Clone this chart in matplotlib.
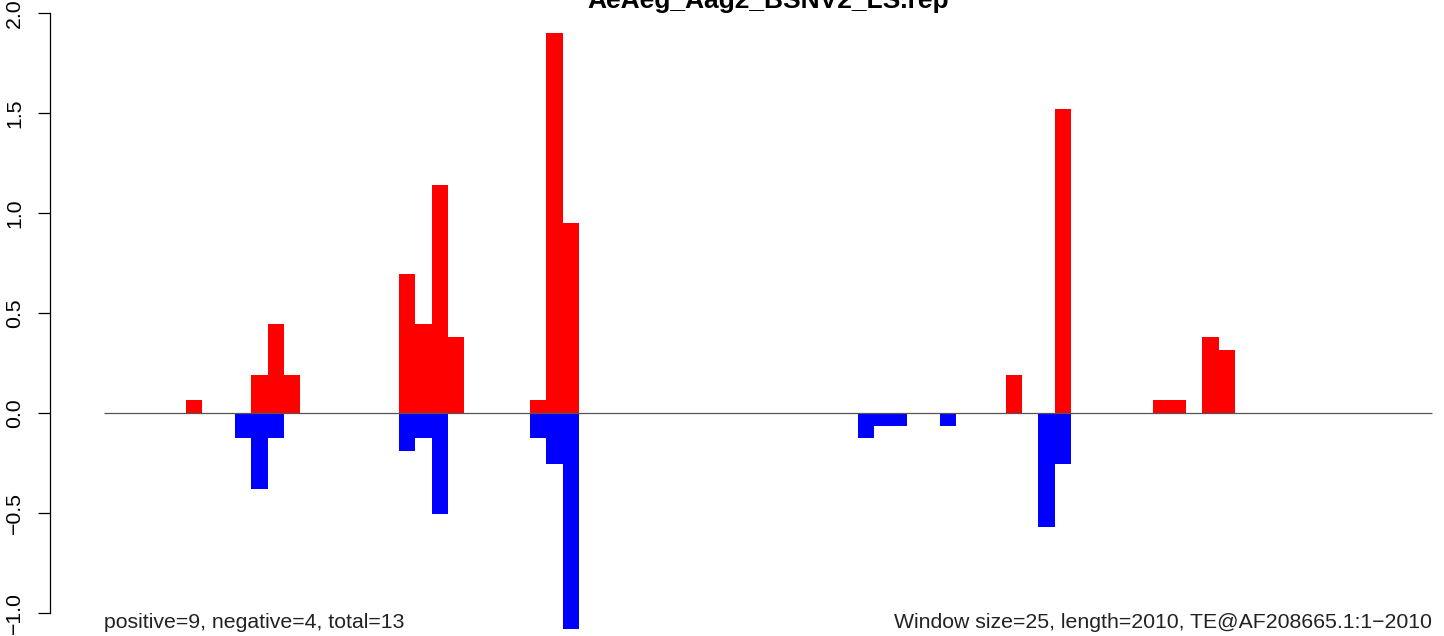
import math
import matplotlib
matplotlib.use('Agg')
import matplotlib.pyplot as plt
import matplotlib.transforms as mtransforms

plt.rcParams['font.family'] = ['Liberation Sans', 'DejaVu Sans']

# data: window start positions (nt) and values
title = "AeAeg_Aag2_BSNV2_LS.rep"
window = 25
length = 2010
pos_start = [125, 225, 250, 275, 450, 475, 500, 525, 650, 675, 700,
             1375, 1450, 1600, 1625, 1675, 1700]
pos_value = [0.063, 0.19, 0.444, 0.19, 0.697, 0.444, 1.141, 0.38, 0.063, 1.902, 0.951,
             0.19, 1.522, 0.063, 0.063, 0.38, 0.317]
neg_start = [200, 225, 250, 450, 475, 500, 650, 675, 700,
             1150, 1175, 1200, 1275, 1425, 1450]
neg_value = [-0.127, -0.38, -0.127, -0.19, -0.127, -0.507, -0.127, -0.254, -1.078,
             -0.127, -0.063, -0.063, -0.063, -0.571, -0.254]
left_note = "positive=9, negative=4, total=13"
right_note = "Window size=25, length=2010, TE@AF208665.1:1\u22122010"
yticks = [-1.0, -0.5, 0.0, 0.5, 1.0, 1.5, 2.0]

fig = plt.figure(figsize=(14.44, 6.36), dpi=100)
ax = fig.add_axes([50 / 1444, 0, 1394 / 1444, 1])

ax.bar(pos_start, pos_value, width=window, align='edge', color='#FF0000', linewidth=0)
ax.bar(neg_start, neg_value, width=window, align='edge', color='#0000FF', linewidth=0)

end = math.ceil(length / window) * window
ax.hlines(0, 0, end, color='#555555', linewidth=0.9)

ax.set_xlim(-81.6, 2043.4)
ax.set_ylim(-1.115, 2.065)

for s in ['top', 'right', 'bottom']:
    ax.spines[s].set_visible(False)
ax.spines['left'].set_bounds(-1, 2)
ax.spines['left'].set_linewidth(0.9)
ax.set_xticks([])
ax.set_yticks(yticks)
ax.set_yticklabels([f"{v:.1f}".replace('-', '\u2212') for v in yticks],
                   rotation=90, va='center', fontsize=15.3)
ax.tick_params(axis='y', length=8.6, width=0.9, pad=10)

trans = mtransforms.blended_transform_factory(ax.transData, ax.transAxes)
ax.text(0, 8 / 636, left_note, transform=trans, ha='left', va='baseline',
        fontsize=15.3, color='#222222')
ax.text(end, 8 / 636, right_note, transform=trans, ha='right', va='baseline',
        fontsize=15.3, color='#222222')

ax.text(end / 2, 1 - 8 / 636, title, transform=trans, ha='center', va='baseline',
        fontsize=19, fontweight='bold', clip_on=False)

fig.savefig('out.png', dpi=100)
